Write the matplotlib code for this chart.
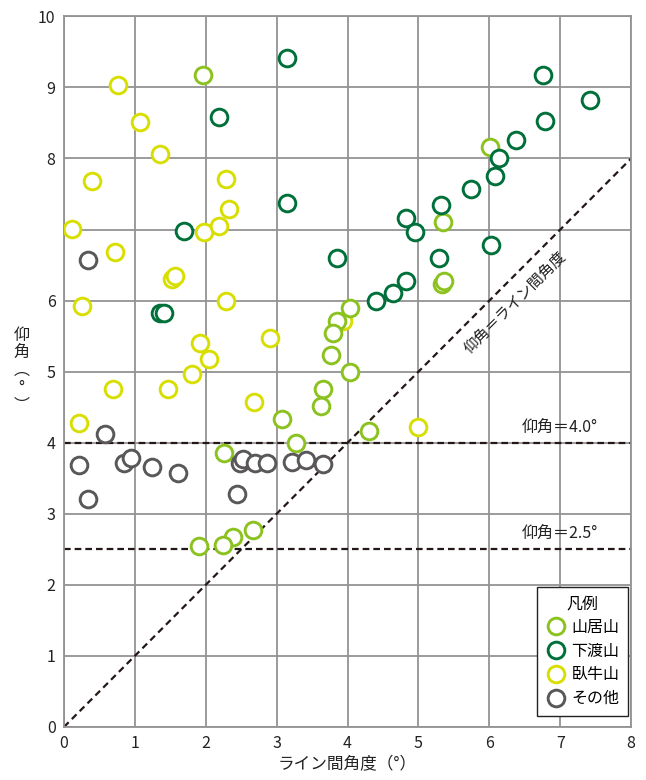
import numpy as np
import matplotlib.pyplot as plt

plt.rcParams['font.family'] = ['Noto Sans CJK JP', 'DejaVu Sans']

## data: (ライン間角度, 仰角)
yamai_x = [1.965, 6.01, 5.34, 5.33, 5.36, 4.03, 3.85, 3.80, 3.77, 4.04, 3.66, 3.62, 3.08, 3.27, 2.26, 4.30, 2.67, 2.38, 2.25, 1.91]
yamai_y = [9.18, 8.16, 7.10, 6.24, 6.28, 5.90, 5.71, 5.55, 5.23, 5.00, 4.75, 4.51, 4.33, 4.00, 3.86, 4.17, 2.77, 2.67, 2.56, 2.55]

shimowatari_x = [3.14, 2.18, 3.14, 1.70, 3.85, 1.354, 1.41, 6.75, 7.42, 6.79, 6.37, 6.14, 6.08, 5.74, 5.32, 4.83, 4.95, 6.03, 5.29, 4.83, 4.64, 4.40]
shimowatari_y = [9.42, 8.59, 7.37, 6.98, 6.60, 5.82, 5.82, 9.17, 8.83, 8.53, 8.26, 8.01, 7.76, 7.57, 7.35, 7.16, 6.97, 6.78, 6.60, 6.28, 6.11, 6.00]

gagyu_x = [0.766, 1.07, 1.354, 0.39, 2.28, 2.33, 0.108, 1.975, 2.18, 0.72, 1.53, 1.565, 2.28, 0.26, 3.93, 1.92, 2.05, 2.90, 1.81, 0.687, 1.47, 2.68, 0.21, 5.0]
gagyu_y = [9.04, 8.51, 8.07, 7.68, 7.71, 7.29, 7.01, 6.97, 7.05, 6.68, 6.31, 6.34, 6.00, 5.93, 5.71, 5.40, 5.18, 5.47, 4.97, 4.75, 4.75, 4.58, 4.28, 4.22]

other_x = [0.343, 0.58, 0.21, 0.85, 0.94, 1.245, 1.61, 2.48, 2.53, 2.70, 2.87, 3.22, 3.42, 3.66, 2.44, 0.343]
other_y = [6.57, 4.12, 3.69, 3.71, 3.79, 3.66, 3.58, 3.71, 3.77, 3.72, 3.72, 3.73, 3.76, 3.70, 3.28, 3.21]

x_ticks = [0, 1, 2, 3, 4, 5, 6, 7, 8]
y_ticks = [0, 1, 2, 3, 4, 5, 6, 7, 8, 9, 10]
y_tick_labels = ['0', '1', '2', '3', '4', '5', '6', '', '8', '9', '10']
ref_levels = [4.0, 2.5]

fig = plt.figure(figsize=(6.46, 7.8), dpi=100)
ax = fig.add_axes([0.099, 0.068, 0.878, 0.911])

grid_c = '#939393'
ax.set_xlim(0, 8)
ax.set_ylim(0, 10)
ax.set_xticks(x_ticks)
ax.set_yticks(y_ticks)
ax.set_yticklabels(y_tick_labels)
ax.grid(True, color=grid_c, linewidth=1.3)
ax.set_axisbelow(True)
for s in ax.spines.values():
    s.set_color(grid_c)
    s.set_linewidth(1.3)
ax.tick_params(length=0, labelsize=11.5, pad=6, colors='#222222')

## reference lines
ax.plot([0, 8], [0, 8], color='#231815', linestyle=(0, (3, 2)), linewidth=1.6, zorder=2)
for lv in ref_levels:
    ax.axhline(lv, color='#231815', linestyle=(0, (3, 1.8)), linewidth=1.6, zorder=2)
    ax.text(7.0, lv + 0.1, f'仰角＝{lv:.1f}°', ha='center', va='bottom', fontsize=11.5, color='#222222')
ax.text(6.36, 5.97, '仰角＝ライン間角度', rotation=45, ha='center', va='center',
        fontsize=11, color='#222222', rotation_mode='anchor')

mk = dict(linestyle='none', marker='o', markersize=12, markerfacecolor='white', markeredgewidth=2.1, zorder=3)
h3, = ax.plot(gagyu_x, gagyu_y, markeredgecolor='#d8df00', label='臥牛山', **mk)
h1, = ax.plot(yamai_x, yamai_y, markeredgecolor='#8cc21f', label='山居山', **mk)
h2, = ax.plot(shimowatari_x, shimowatari_y, markeredgecolor='#00703a', label='下渡山', **mk)
h4, = ax.plot(other_x, other_y, markeredgecolor='#595757', label='その他', **mk)

leg = ax.legend(handles=[h1, h2, h3, h4], title='凡例', loc='lower right',
                bbox_to_anchor=(0.995, 0.0155), fontsize=11.5, title_fontsize=11.5,
                frameon=True, fancybox=False, edgecolor='#222222', framealpha=1,
                handletextpad=0.3, borderpad=0.55, labelspacing=0.42, handlelength=1.3,
                borderaxespad=0)
leg.get_frame().set_linewidth(1.0)

ax.set_xlabel('ライン間角度（°）', fontsize=12, color='#222222', labelpad=3)
fig.text(0.033, 0.525, '仰\n角\n︵\n°\n︶', ha='center', va='center', fontsize=11.5,
         color='#222222', linespacing=1.05)

fig.savefig('out.png', dpi=100)
